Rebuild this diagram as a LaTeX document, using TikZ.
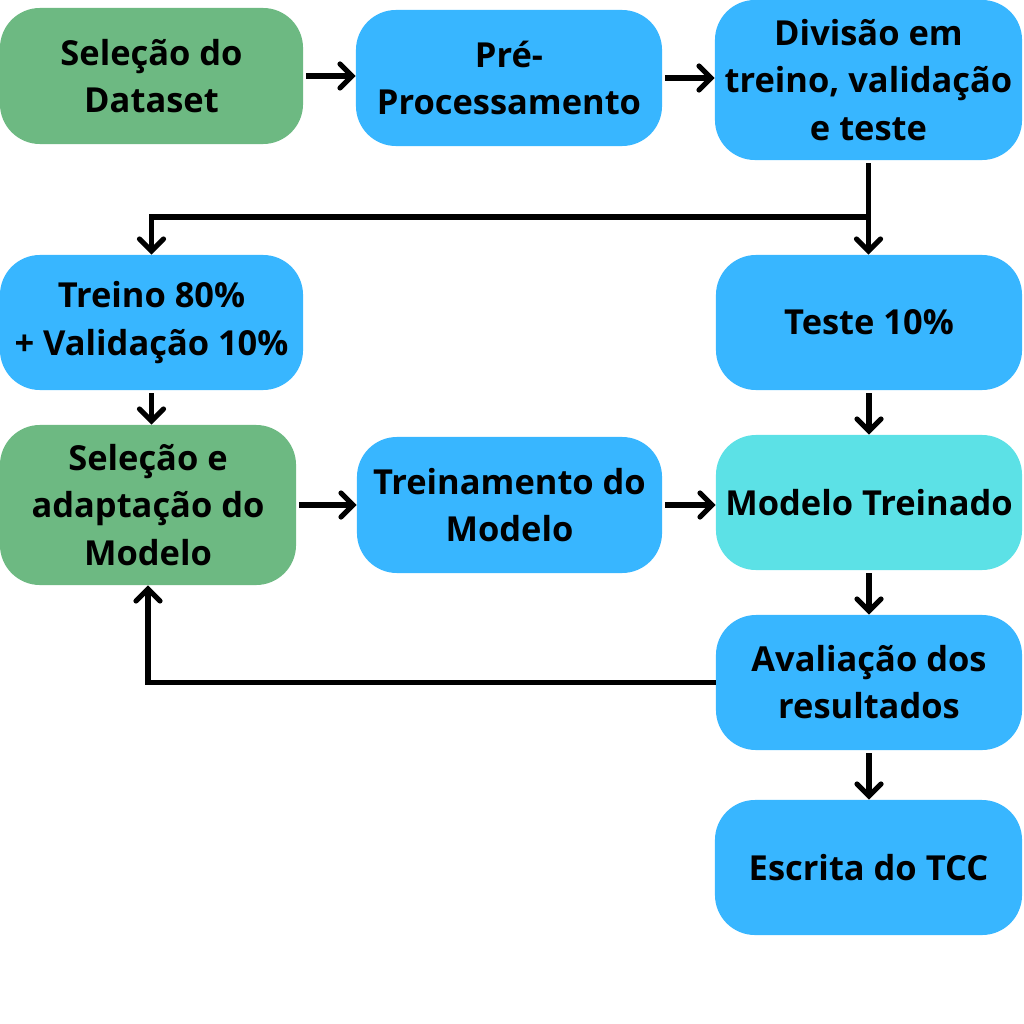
\documentclass[tikz,border=0pt]{standalone}
\usepackage{fontspec}
\setmainfont{Open Sans}
\usetikzlibrary{arrows.meta}
\definecolor{verde}{HTML}{6DB982}
\definecolor{azul}{HTML}{38B6FF}
\definecolor{ciano}{HTML}{5CE1E6}
\tikzset{
	etapa/.style={rectangle, rounded corners=1cm, draw=none, align=center,
		font=\fontsize{24.5}{33.5}\selectfont\bfseries, inner sep=0pt},
	seta/.style={line width=0.13cm, -{Straight Barb[length=0.3cm, width=0.6cm, line cap=round]}, shorten <=2pt}
}
\begin{document}
\begin{tikzpicture}[x=0.025cm, y=-0.025cm]
	\useasboundingbox (0,0) rectangle (1024,1024);
	\node (sel) at (151.5,  76)	[etapa, fill = verde, minimum width=7.575cm, minimum height=3.4cm]	{Seleção do\\Dataset};
	\node (pre) at (509,    78)	[etapa, fill = azul,  minimum width=7.65cm,  minimum height=3.4cm]	{Pré-\\Processamento};
	\node (div) at (868.5,  80)	[etapa, fill = azul,  minimum width=7.675cm, minimum height=4cm]	{Divisão em\\treino, validação\\e teste};
	\node (tv)  at (151.5, 322.5)	[etapa, fill = azul,  minimum width=7.575cm, minimum height=3.375cm]	{Treino 80\%\\+ Validação 10\%};
	\node (tes) at (869,   322.5)	[etapa, fill = azul,  minimum width=7.65cm,  minimum height=3.375cm]	{Teste 10\%};
	\node (ada) at (148,   505)	[etapa, fill = verde, minimum width=7.4cm,   minimum height=4cm]	{Seleção e\\adaptação do\\Modelo};
	\node (trm) at (509.5, 505)	[etapa, fill = azul,  minimum width=7.625cm, minimum height=3.4cm]	{Treinamento do\\Modelo};
	\node (mtr) at (869,   502.5)	[etapa, fill = ciano, minimum width=7.65cm,  minimum height=3.375cm]	{Modelo Treinado};
	\node (ava) at (869,   682.5)	[etapa, fill = azul,  minimum width=7.65cm,  minimum height=3.375cm]	{Avaliação dos\\resultados};
	\node (esc) at (868.5, 867.5)	[etapa, fill = azul,  minimum width=7.675cm, minimum height=3.375cm]	{Escrita do TCC};
	\coordinate (split) at (868, 217);
	\draw[seta] (sel.east) -- (sel.east -| pre.west);
	\draw[seta] (pre.east) -- (pre.east -| div.west);
	\draw[seta] (div.south) -- (div.south |- tes.north);
	\draw[seta, shorten <=0pt] (split) -| (tv.north);
	\draw[seta] (tv.south) -- (tv.south |- ada.north);
	\draw[seta] (tes.south) -- (tes.south |- mtr.north);
	\draw[seta] (ada.east) -- (ada.east -| trm.west);
	\draw[seta] (trm.east) -- (trm.east -| mtr.west);
	\draw[seta] (mtr.south) -- (mtr.south |- ava.north);
	\draw[seta] (ava.south) -- (ava.south |- esc.north);
	\draw[seta, shorten <=0pt] (ava.west) -| (ada.south);
\end{tikzpicture}
\end{document}
